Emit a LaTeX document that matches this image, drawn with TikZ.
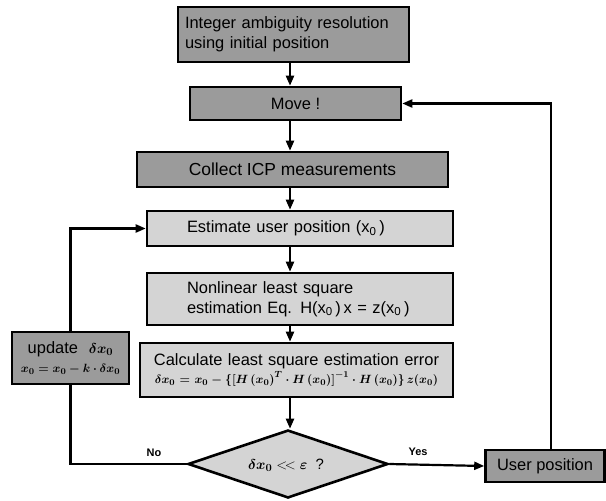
\documentclass[tikz,border=0pt]{standalone}
\usepackage{fontspec}
\setmainfont{Liberation Sans}
\usepackage{bm}
\usetikzlibrary{arrows.meta,shapes.geometric}
\definecolor{dk}{RGB}{155,155,155}
\definecolor{lt}{RGB}{212,212,212}
\begin{document}
\begin{tikzpicture}[x=1bp,y=-1bp,
  box/.style={draw, line width=2.6bp, inner ysep=0bp, font=\fontsize{16.5}{20}\selectfont},
  arr/.style={line width=2.2bp, -{Triangle[length=10bp,width=8bp]}},
  ln/.style={line width=2.2bp},
  lbl/.style={font=\fontsize{11}{13}\selectfont\bfseries}]
\useasboundingbox (0,0) rectangle (606,501);
\coordinate (ax) at (290,0);
\coordinate (rx) at (551,0);
\node[box, fill=dk, text width=217bp, inner xsep=7bp, minimum height=55bp, align=left] (b1) at (293.5,34.5)
  {Integer ambiguity resolution\\using initial position};
\node[box, fill=dk, minimum width=211bp, minimum height=33bp] (b2) at (295.5,103.5) {Move !};
\node[box, fill=dk, minimum width=311bp, minimum height=35bp] (b3) at (292.5,169.5) {\fontsize{17.5}{20}\selectfont Collect ICP measurements};
\node[box, fill=lt, text width=226bp, inner xsep=40bp, minimum height=35bp, align=left] (b4) at (300,228.5)
  {Estimate user position (x\textsubscript{0}\,)};
\node[box, fill=lt, text width=226bp, inner xsep=40bp, minimum height=52bp, align=left] (b5) at (300,299)
  {Nonlinear least square\\estimation Eq. H(x\textsubscript{0}\,)\,x = z(x\textsubscript{0}\,)};
\node[box, fill=lt, text width=305bp, inner xsep=4bp, minimum height=54bp, align=center] (b6) at (296.5,370)
  {Calculate least square estimation error\\[-2bp]
   {\fontsize{13}{15}\selectfont$\bm{\delta x_0 = x_0 - \{[H\,(x_0)^T\cdot H\,(x_0)]^{-1}\cdot H\,(x_0)\}\,z(x_0)}$}};
\node[box, fill=dk, text width=109bp, inner xsep=4bp, minimum height=52bp, align=center] (upd) at (70.5,358)
  {update \ {\fontsize{15}{18}\selectfont$\bm{\delta x_0}$}\\[-1bp]
   {\fontsize{12.5}{15}\selectfont$\bm{x_0 = x_0 - k\cdot\delta x_0}$}};
\node[diamond, draw, line width=2.6bp, fill=lt, minimum width=200bp, minimum height=68bp, inner sep=0bp] (dia) at (288,464) {};
\node[font=\fontsize{15}{18}\selectfont] (dt) at (286,465) {$\bm{\delta x_0} <\!< \bm{\varepsilon}$ \ ?};
\node[box, fill=dk, minimum width=119bp, minimum height=32bp] (usr) at (545,466) {User position};
\node[lbl] (no) at (154,453) {No};
\node[lbl] (yes) at (418,452) {Yes};
\draw[arr] (b1.south -| ax) -- (b2.north -| ax);
\draw[arr] (b2.south -| ax) -- (b3.north -| ax);
\draw[arr] (b3.south -| ax) -- (b4.north -| ax);
\draw[arr] (b4.south -| ax) -- (b5.north -| ax);
\draw[arr] (b5.south -| ax) -- (b6.north -| ax);
\draw[arr] (b6.south -| ax) -- (dia.north -| ax);
\draw[ln] (dia.west) -| (upd.south);
\draw[arr] (upd.north) |- (b4.west);
\draw[arr] (dia.east) -- (usr.west);
\draw[arr] (usr.north -| rx) |- (b2.east);
\end{tikzpicture}
\end{document}
